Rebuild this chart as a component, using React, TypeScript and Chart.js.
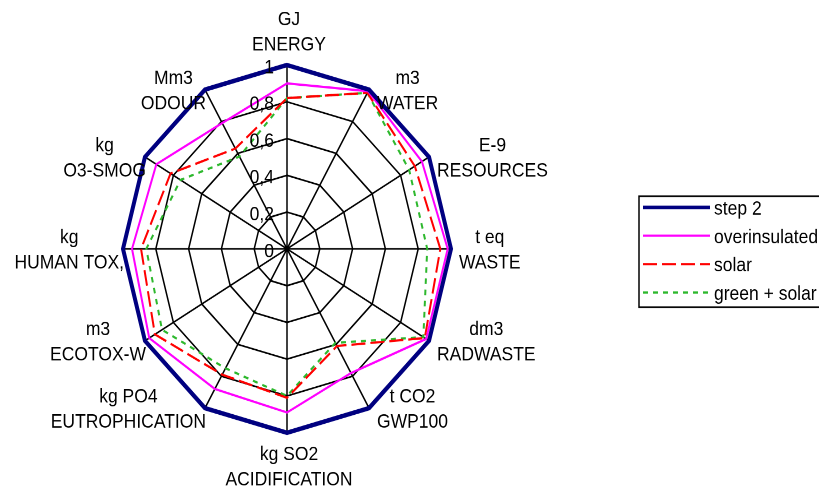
import React, { useEffect, useRef } from 'react';
import { Chart, registerables } from 'chart.js';

Chart.register(...registerables);

// axes, clockwise from the top
const axisNames = ['ENERGY', 'WATER', 'RESOURCES', 'WASTE', 'RADWASTE', 'GWP100', 'ACIDIFICATION', 'EUTROPHICATION', 'ECOTOX-W', 'HUMAN TOX,', 'O3-SMOG', 'ODOUR'];
const axisUnits = ['GJ', 'm3', 'E-9', 't eq', 'dm3', 't CO2', 'kg SO2', 'kg PO4', 'm3', 'kg', 'kg', 'Mm3'];

const step2 = [1, 1, 1, 1, 1, 1, 1, 1, 1, 1, 1, 1];
const overinsulated = [0.9, 0.99, 0.95, 0.98, 0.98, 0.78, 0.89, 0.88, 0.97, 0.945, 0.92, 0.79];
const solar = [0.82, 0.98, 0.9, 0.935, 0.97, 0.61, 0.81, 0.79, 0.93, 0.89, 0.82, 0.63];
const greenSolar = [0.82, 0.98, 0.86, 0.855, 0.96, 0.59, 0.8, 0.75, 0.88, 0.858, 0.75, 0.58];

const tickValues = [0, 0.2, 0.4, 0.6, 0.8, 1];
const tickLabels = ['0', '0,2', '0,4', '0,6', '0,8', '1'];

const FONT = '17.5px "Liberation Sans", Arial, sans-serif';
const LINE_H = 22.3;
// the original plot is taller than wide, so the canvas is stretched vertically
const STRETCH = 491 / 438;

const excelLabels = {
  id: 'excelLabels',
  afterDraw(chart: any) {
    const scale = chart.scales.r;
    const ctx = chart.ctx as CanvasRenderingContext2D;
    ctx.save();
    ctx.font = FONT;
    ctx.fillStyle = '#000';
    ctx.textBaseline = 'middle';

    // value labels beside the top spoke
    ctx.textAlign = 'right';
    tickValues.forEach((v, i) => {
      const d = scale.getDistanceFromCenterForValue(v);
      ctx.fillText(tickLabels[i], scale.xCenter - 13, scale.yCenter - d + 2.5);
    });

    // category labels: unit over name, centred block
    ctx.textAlign = 'center';
    const r = scale.drawingArea;
    axisNames.forEach((name, i) => {
      const p = scale.getPointPosition(i, r);
      const a = scale.getIndexAngle(i);
      const sin = Math.sin(a);
      const cos = Math.cos(a);
      const lines = [axisUnits[i], name];
      const w = Math.max(...lines.map((l) => ctx.measureText(l).width));
      const h = LINE_H * lines.length;
      let cx = p.x + 2;
      if (sin > 0.01) cx = p.x + 8 + w / 2;
      else if (sin < -0.01) cx = p.x + 1 - w / 2;
      let cy = p.y + 1.5;
      if (cos > 0.99) cy = p.y - 6.7 - h / 2;
      else if (cos < -0.99) cy = p.y + 8.5 + h / 2;
      lines.forEach((l, k) => {
        ctx.fillText(l, cx, cy - h / 2 + LINE_H * (k + 0.5));
      });
    });

    // legend box
    const boxL = 639, boxT = 175, boxB = 274;
    ctx.strokeStyle = '#000';
    ctx.lineWidth = 1.5;
    ctx.strokeRect(boxL, boxT, 830 - boxL, boxB - boxT);
    ctx.textAlign = 'left';
    chart.data.datasets.forEach((ds: any, k: number) => {
      const y = 185 + k * 25.3;
      ctx.save();
      ctx.strokeStyle = ds.borderColor;
      ctx.lineWidth = ds.borderWidth === 4 ? 3.3 : ds.borderWidth;
      ctx.setLineDash(ds.borderDash || []);
      ctx.beginPath();
      ctx.moveTo(643, y);
      ctx.lineTo(710, y);
      ctx.stroke();
      ctx.restore();
      ctx.fillText(ds.label, 714, y + 1.8);
    });
    ctx.restore();
  },
};

export default function App() {
  const canvasRef = useRef<HTMLCanvasElement>(null);

  useEffect(() => {
    if (!canvasRef.current) return;
    const chart = new Chart(canvasRef.current, {
      type: 'radar',
      data: {
        labels: axisNames,
        datasets: [
          { label: 'step 2', data: step2, borderColor: '#000080', borderWidth: 4, borderJoinStyle: 'miter' },
          { label: 'overinsulated', data: overinsulated, borderColor: '#FF00FF', borderWidth: 2 },
          { label: 'solar', data: solar, borderColor: '#FF0000', borderWidth: 2, borderDash: [14, 5] },
          { label: 'green + solar', data: greenSolar, borderColor: '#2DB82D', borderWidth: 2, borderDash: [5, 5] },
        ].map((d) => ({ ...d, fill: false, pointRadius: 0, pointHoverRadius: 0, tension: 0 })),
      },
      options: {
        animation: false,
        responsive: false,
        devicePixelRatio: 2,
        events: [],
        layout: { padding: { left: 123, top: 58, right: 368, bottom: 52 } },
        plugins: { legend: { display: false }, tooltip: { enabled: false } },
        scales: {
          r: {
            min: 0,
            max: 1,
            ticks: { display: false, stepSize: 0.2 },
            grid: { color: '#000', lineWidth: 1.5 },
            angleLines: { color: '#000', lineWidth: 1.5 },
            pointLabels: { display: false },
          },
        },
      },
      plugins: [excelLabels],
    } as any);
    return () => chart.destroy();
  }, []);

  return (
    <div style={{ position: 'absolute', left: 0, top: 0, width: 819, height: 491, overflow: 'hidden', background: '#fff' }}>
      <div style={{ width: 819, height: 438, transform: `scaleY(${STRETCH})`, transformOrigin: '0 0' }}>
        <canvas ref={canvasRef} width={819} height={438} />
      </div>
    </div>
  );
}
